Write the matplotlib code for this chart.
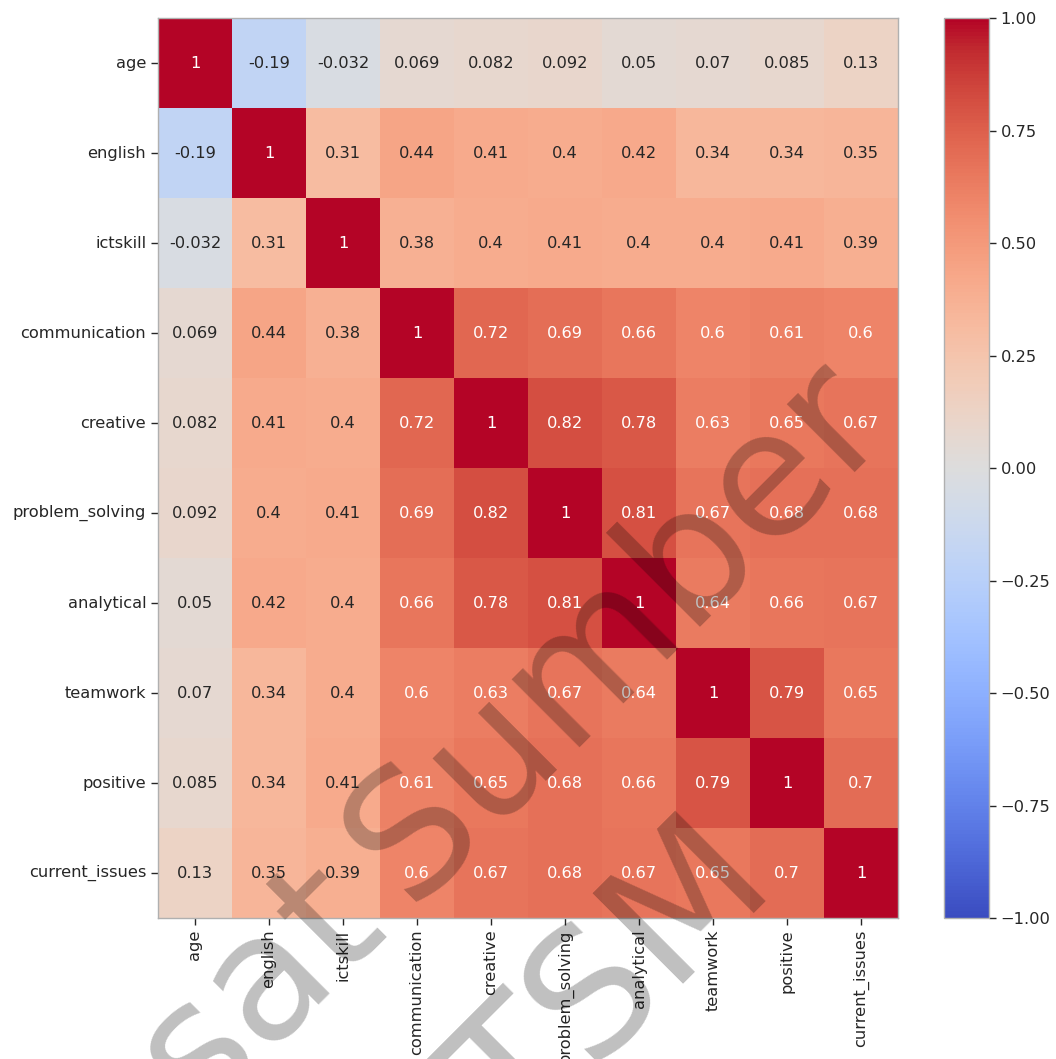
import numpy as np
import pandas as pd
import matplotlib
matplotlib.use("Agg")
import matplotlib.pyplot as plt
import seaborn as sns

labels = ["age", "english", "ictskill", "communication", "creative",
          "problem_solving", "analytical", "teamwork", "positive", "current_issues"]

age = [1, -0.19, -0.032, 0.069, 0.082, 0.092, 0.05, 0.07, 0.085, 0.13]
english = [-0.19, 1, 0.31, 0.44, 0.41, 0.4, 0.42, 0.34, 0.34, 0.35]
ictskill = [-0.032, 0.31, 1, 0.38, 0.4, 0.41, 0.4, 0.4, 0.41, 0.39]
communication = [0.069, 0.44, 0.38, 1, 0.72, 0.69, 0.66, 0.6, 0.61, 0.6]
creative = [0.082, 0.41, 0.4, 0.72, 1, 0.82, 0.78, 0.63, 0.65, 0.67]
problem_solving = [0.092, 0.4, 0.41, 0.69, 0.82, 1, 0.81, 0.67, 0.68, 0.68]
analytical = [0.05, 0.42, 0.4, 0.66, 0.78, 0.81, 1, 0.64, 0.66, 0.67]
teamwork = [0.07, 0.34, 0.4, 0.6, 0.63, 0.67, 0.64, 1, 0.79, 0.65]
positive = [0.085, 0.34, 0.41, 0.61, 0.65, 0.68, 0.66, 0.79, 1, 0.7]
current_issues = [0.13, 0.35, 0.39, 0.6, 0.67, 0.68, 0.67, 0.65, 0.7, 1]

corr = pd.DataFrame([age, english, ictskill, communication, creative,
                     problem_solving, analytical, teamwork, positive, current_issues],
                    index=labels, columns=labels)

fs = 11.7
txt_col = "#262626"
edge = "#b0b0b0"

fig = plt.figure(figsize=(10.56, 10.59), dpi=100)
ax = fig.add_axes([0.1496, 0.1331, 0.7008, 0.8499])
cax = fig.add_axes([0.8939, 0.1331, 0.0426, 0.8499])

sns.heatmap(corr, annot=True, cmap="coolwarm", vmin=-1, vmax=1,
            ax=ax, cbar_ax=cax, annot_kws={"size": fs})

ax.tick_params(labelsize=fs, colors=txt_col, length=5, width=1)
ax.set_xticklabels(labels, rotation=90)
ax.set_yticklabels(labels, rotation=0)
for s in ax.spines.values():
    s.set_visible(True)
    s.set_color(edge)
    s.set_linewidth(1)

cax.tick_params(labelsize=fs, colors=txt_col, length=5, width=1)
cax.set_yticks([-1, -0.75, -0.5, -0.25, 0, 0.25, 0.5, 0.75, 1])
cax.set_yticklabels(["\u22121.00", "\u22120.75", "\u22120.50", "\u22120.25", "0.00",
                     "0.25", "0.50", "0.75", "1.00"])
cb = ax.collections[0].colorbar
cb.outline.set_visible(True)
cb.outline.set_linewidth(1)
cb.outline.set_edgecolor(edge)

# watermark
wm = dict(fontsize=126, color="black", alpha=0.25, rotation=45,
          rotation_mode="anchor", va="baseline")
fig.text(0.3655, 0.1303, "Pusat", ha="right", **wm)
fig.text(0.3873, 0.1445, "Sumber", ha="left", **wm)
fig.text(0.614, 0.0373, "TSM", ha="center", **wm)

fig.savefig("out.png", dpi=100)
